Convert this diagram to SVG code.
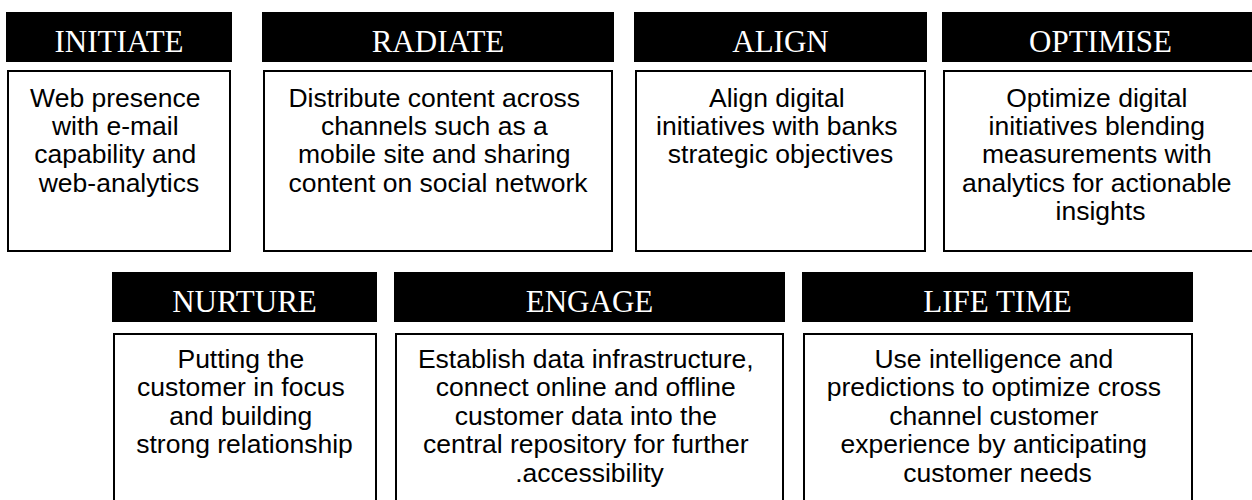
<svg xmlns="http://www.w3.org/2000/svg" width="1252" height="500" viewBox="0 0 1252 500">
  <style>
    .hdr { fill: #000; }
    .hdr-text { fill: #fff; font-family: "Liberation Serif", "Times New Roman", serif; font-size: 31px; text-anchor: middle; }
    .body { fill: #fff; stroke: #000; stroke-width: 2; }
    .body-text { fill: #000; font-family: "Liberation Sans", Arial, sans-serif; font-size: 26.5px; text-anchor: middle; }
  </style>
  <rect width="1252" height="500" fill="#fff"/>

  <!-- Top row: stages 1-4 -->
  <g id="initiate">
    <rect class="hdr" x="6" y="12" width="226" height="50"/>
    <text class="hdr-text" x="119" y="52">INITIATE</text>
    <rect class="body" x="8" y="71" width="222" height="180"/>
    <text class="body-text">
      <tspan x="119" y="106.5">Web presence</tspan>
      <tspan x="119" y="134.9">with e-mail</tspan>
      <tspan x="119" y="163.3">capability and</tspan>
      <tspan x="119" y="191.7">web-analytics</tspan>
    </text>
  </g>

  <g id="radiate">
    <rect class="hdr" x="262" y="12" width="352" height="50"/>
    <text class="hdr-text" x="438" y="52">RADIATE</text>
    <rect class="body" x="264" y="71" width="348" height="180"/>
    <text class="body-text">
      <tspan x="438" y="106.5">Distribute content across</tspan>
      <tspan x="438" y="134.9">channels such as a</tspan>
      <tspan x="438" y="163.3">mobile site and sharing</tspan>
      <tspan x="438" y="191.7">content on social network</tspan>
    </text>
  </g>

  <g id="align">
    <rect class="hdr" x="634" y="12" width="293" height="50"/>
    <text class="hdr-text" x="780.5" y="52">ALIGN</text>
    <rect class="body" x="636" y="71" width="289" height="180"/>
    <text class="body-text">
      <tspan x="780.5" y="106.5">Align digital</tspan>
      <tspan x="780.5" y="134.9">initiatives with banks</tspan>
      <tspan x="780.5" y="163.3">strategic objectives</tspan>
    </text>
  </g>

  <g id="optimise">
    <rect class="hdr" x="942" y="12" width="317" height="50"/>
    <text class="hdr-text" x="1100.5" y="52">OPTIMISE</text>
    <rect class="body" x="944" y="71" width="313" height="180"/>
    <text class="body-text">
      <tspan x="1100.5" y="106.5">Optimize digital</tspan>
      <tspan x="1100.5" y="134.9">initiatives blending</tspan>
      <tspan x="1100.5" y="163.3">measurements with</tspan>
      <tspan x="1100.5" y="191.7">analytics for actionable</tspan>
      <tspan x="1100.5" y="220.1">insights</tspan>
    </text>
  </g>

  <!-- Bottom row: stages 5-7 -->
  <g id="nurture">
    <rect class="hdr" x="112" y="272" width="265" height="50"/>
    <text class="hdr-text" x="244.5" y="312">NURTURE</text>
    <rect class="body" x="114" y="334" width="262" height="190"/>
    <text class="body-text">
      <tspan x="244.5" y="367.5">Putting the</tspan>
      <tspan x="244.5" y="396">customer in focus</tspan>
      <tspan x="244.5" y="424.5">and building</tspan>
      <tspan x="244.5" y="453">strong relationship</tspan>
    </text>
  </g>

  <g id="engage">
    <rect class="hdr" x="394" y="272" width="391" height="50"/>
    <text class="hdr-text" x="589.5" y="312">ENGAGE</text>
    <rect class="body" x="396" y="334" width="387" height="190"/>
    <text class="body-text">
      <tspan x="589.5" y="367.5">Establish data infrastructure,</tspan>
      <tspan x="589.5" y="396">connect online and offline</tspan>
      <tspan x="589.5" y="424.5">customer data into the</tspan>
      <tspan x="589.5" y="453">central repository for further</tspan>
      <tspan x="589.5" y="481.5">.accessibility</tspan>
    </text>
  </g>

  <g id="life-time">
    <rect class="hdr" x="802" y="272" width="391" height="50"/>
    <text class="hdr-text" x="997.5" y="312">LIFE TIME</text>
    <rect class="body" x="804" y="334" width="388" height="190"/>
    <text class="body-text">
      <tspan x="997.5" y="367.5">Use intelligence and</tspan>
      <tspan x="997.5" y="396">predictions to optimize cross</tspan>
      <tspan x="997.5" y="424.5">channel customer</tspan>
      <tspan x="997.5" y="453">experience by anticipating</tspan>
      <tspan x="997.5" y="481.5">customer needs</tspan>
    </text>
  </g>

  <!-- No connectors between the stage boxes -->
  <g id="connectors"/>
</svg>
